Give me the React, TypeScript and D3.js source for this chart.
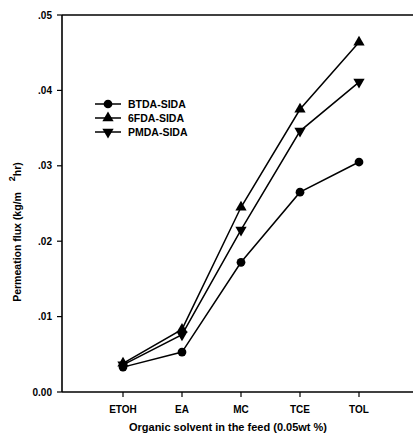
import React, { useEffect, useRef } from 'react'
import * as d3 from 'd3'

const solvents = ['ETOH', 'EA', 'MC', 'TCE', 'TOL']
const btdaSida = [0.0033, 0.0053, 0.0172, 0.0265, 0.0305]
const sixFdaSida = [0.0038, 0.0083, 0.0245, 0.0375, 0.0464]
const pmdaSida = [0.0036, 0.0076, 0.0215, 0.0346, 0.0411]
const yTicks = [0, 0.01, 0.02, 0.03, 0.04, 0.05]
const yTickLabels = ['0.00', '.01', '.02', '.03', '.04', '.05']

const seriesList = [
  { name: 'BTDA-SIDA', values: btdaSida, symbol: d3.symbolCircle, size: 60, rotate: 0 },
  { name: '6FDA-SIDA', values: sixFdaSida, symbol: d3.symbolTriangle, size: 55, rotate: 0 },
  { name: 'PMDA-SIDA', values: pmdaSida, symbol: d3.symbolTriangle, size: 55, rotate: 180 },
]

const FONT = '"Liberation Sans Narrow", "Liberation Sans", Arial, sans-serif'

export default function App() {
  const ref = useRef<SVGSVGElement>(null)

  useEffect(() => {
    const svg = d3.select(ref.current)
    svg.selectAll('*').remove()
    const width = 414
    const height = 435
    const left = 62
    const right = 413
    const top = 15
    const bottom = 392

    const x = d3.scalePoint().domain(solvents).range([123, 359])
    const y = d3.scaleLinear().domain([0, 0.05]).range([bottom, top])

    svg.append('rect').attr('width', width).attr('height', height).attr('fill', '#fff')

    // frame: left, bottom and top lines
    svg.append('line').attr('x1', left).attr('x2', right).attr('y1', top).attr('y2', top)
      .attr('stroke', '#000').attr('stroke-width', 1.6)
    svg.append('line').attr('x1', left).attr('x2', right).attr('y1', bottom).attr('y2', bottom)
      .attr('stroke', '#000').attr('stroke-width', 1.6)
    svg.append('line').attr('x1', left).attr('x2', left).attr('y1', top).attr('y2', bottom)
      .attr('stroke', '#000').attr('stroke-width', 1.6)

    // y ticks
    const yg = svg.append('g')
    yTicks.forEach((t, i) => {
      yg.append('line').attr('x1', left - 5).attr('x2', left).attr('y1', y(t)).attr('y2', y(t))
        .attr('stroke', '#000').attr('stroke-width', 1.2)
      yg.append('text').attr('x', 52).attr('y', y(t) + 3.5).attr('text-anchor', 'end')
        .attr('font-family', FONT).attr('font-weight', 'bold').attr('font-size', 10)
        .text(yTickLabels[i])
    })

    // x ticks
    const xg = svg.append('g')
    solvents.forEach(s => {
      xg.append('line').attr('x1', x(s)!).attr('x2', x(s)!).attr('y1', bottom).attr('y2', bottom + 5)
        .attr('stroke', '#000').attr('stroke-width', 1.2)
      xg.append('text').attr('x', x(s)!).attr('y', 413).attr('text-anchor', 'middle')
        .attr('font-family', FONT).attr('font-weight', 'bold').attr('font-size', 10)
        .text(s)
    })

    // axis titles
    svg.append('text').attr('x', 228).attr('y', 431).attr('text-anchor', 'middle')
      .attr('font-family', FONT).attr('font-size', 11).attr('font-weight', 'bold')
      .text('Organic solvent in the feed (0.05wt %)')

    const yt = svg.append('text').attr('transform', 'translate(21,232) rotate(-90)')
      .attr('text-anchor', 'middle').attr('font-family', FONT).attr('font-size', 10.5)
      .attr('font-weight', 'bold')
    yt.append('tspan').text('Permeation flux (kg/m ')
    yt.append('tspan').attr('dx', 8).attr('dy', -6).attr('font-size', 9).text('2')
    yt.append('tspan').attr('dy', 6).text('hr)')

    const line = d3.line<number>().x((_, i) => x(solvents[i])!).y(d => y(d))

    seriesList.forEach(s => {
      svg.append('path').datum(s.values).attr('d', line).attr('fill', 'none')
        .attr('stroke', '#000').attr('stroke-width', 1.5)
      const sym = d3.symbol().type(s.symbol).size(s.size)
      svg.selectAll(null).data(s.values).enter().append('path')
        .attr('d', sym)
        .attr('transform', (d, i) => `translate(${x(solvents[i])},${y(d)}) rotate(${s.rotate})`)
        .attr('fill', '#000')
    })

    // legend
    const lg = svg.append('g')
    seriesList.forEach((s, i) => {
      const ly = 104 + i * 14
      lg.append('line').attr('x1', 95).attr('x2', 121).attr('y1', ly).attr('y2', ly)
        .attr('stroke', '#000').attr('stroke-width', 1.5)
      lg.append('path').attr('d', d3.symbol().type(s.symbol).size(s.size)())
        .attr('transform', `translate(108,${ly}) rotate(${s.rotate})`).attr('fill', '#000')
      lg.append('text').attr('x', 128).attr('y', ly + 4).attr('font-family', FONT)
        .attr('font-size', 10.5).attr('font-weight', 'bold').text(s.name)
    })
  }, [])

  return (
    <svg ref={ref} width={414} height={435}
      style={{ display: 'block', position: 'fixed', left: 0, top: 0 }} />
  )
}
